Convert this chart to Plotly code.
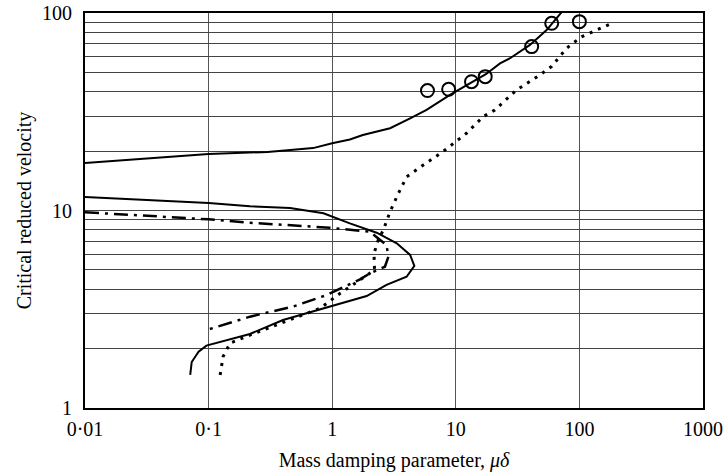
import plotly.graph_objects as go

# Upper solid curve
up_x = [0.01, 0.1, 0.3, 0.7, 1.0, 1.39, 1.77, 2.94, 4.27, 5.8, 8.97, 13.0, 17.5, 22.8, 27.5, 39.8, 54.3, 77.6]
up_y = [17.4, 19.3, 19.8, 20.7, 21.9, 22.9, 24.1, 26.1, 29.3, 32.3, 38.5, 44.1, 49.0, 55.6, 59.0, 68.9, 82.0, 107]

# Experimental points (open circles)
pt_x = [5.9, 8.75, 13.4, 17.3, 41.1, 59.7, 100]
pt_y = [40.5, 41.1, 44.9, 47.6, 67.6, 88.7, 90.4]

# Lower solid (C-shaped) curve
lo_x = [0.01, 0.1, 0.216, 0.456, 0.85, 1.39, 2.29, 3.33, 4.27, 4.62, 4.0, 2.75, 1.9, 1.0, 0.40, 0.216, 0.18, 0.096, 0.083, 0.073, 0.071]
lo_y = [11.7, 10.9, 10.5, 10.3, 9.68, 8.61, 7.72, 6.82, 5.96, 5.24, 4.62, 4.2, 3.69, 3.28, 2.79, 2.37, 2.30, 2.07, 1.93, 1.71, 1.47]

# Dash-dot curve
dd_x = [0.01, 0.0246, 0.1, 0.216, 0.96, 2.02, 2.75, 2.85, 2.67, 2.02, 1.68, 0.90, 0.48, 0.216, 0.096]
dd_y = [9.8, 9.49, 9.02, 8.67, 8.18, 7.81, 6.69, 5.83, 5.19, 4.81, 4.48, 3.73, 3.26, 2.9, 2.48]

# Dotted curve
dt_x = [0.124, 0.131, 0.149, 0.216, 0.80, 1.16, 1.68, 2.2, 2.18, 2.36, 2.59, 2.94, 3.43, 4.0, 5.46, 7.9, 12.2, 16.7, 20.7, 31.1, 48, 59.7, 78.9, 104, 188]
dt_y = [1.47, 1.82, 2.13, 2.34, 3.2, 3.81, 4.45, 5.0, 6.07, 7.1, 7.96, 9.86, 12.2, 14.8, 17.0, 19.9, 24.6, 29.9, 32.3, 40.8, 48.6, 53.7, 66.4, 75.8, 89.4]

x_ticks = [0.01, 0.1, 1, 10, 100, 1000]
x_labels = ["0·01", "0·1", "1", "10", "100", "1000"]
y_ticks = [1, 2, 3, 4, 5, 6, 7, 8, 9, 10, 20, 30, 40, 50, 60, 70, 80, 90, 100]
y_labels = ["1", "", "", "", "", "", "", "", "", "10", "", "", "", "", "", "", "", "", "100"]

fig = go.Figure()
fig.add_trace(go.Scatter(x=up_x, y=up_y, mode="lines", line=dict(color="black", width=2)))
fig.add_trace(go.Scatter(x=lo_x, y=lo_y, mode="lines", line=dict(color="black", width=2)))
fig.add_trace(go.Scatter(x=dd_x, y=dd_y, mode="lines",
                         line=dict(color="black", width=2.5, dash="14px,6px,3px,6px")))
fig.add_trace(go.Scatter(x=dt_x, y=dt_y, mode="lines",
                         line=dict(color="black", width=3, dash="3px,6px")))
fig.add_trace(go.Scatter(x=pt_x, y=pt_y, mode="markers",
                         marker=dict(symbol="circle-open", size=13, color="black", line=dict(width=2))))

font = dict(family="Liberation Serif, Times New Roman, serif", size=20, color="black")
fig.update_layout(
    width=726, height=475,
    margin=dict(l=85, r=23, t=13, b=67),
    paper_bgcolor="white", plot_bgcolor="white",
    showlegend=False,
    font=font,
    xaxis=dict(type="log", range=[-2, 3], tickvals=x_ticks, ticktext=x_labels,
               showgrid=True, gridcolor="#555", gridwidth=1, automargin=False,
               showline=True, linecolor="black", linewidth=2, mirror=True,
               ticks="", ticklabelstandoff=2, zeroline=False,
               title=dict(text="Mass damping parameter, <i>μδ</i>", standoff=14, font=font)),
    yaxis=dict(type="log", range=[0, 2], tickvals=y_ticks, ticktext=y_labels,
               showgrid=True, gridcolor="#444", gridwidth=1, automargin=False,
               showline=True, linecolor="black", linewidth=2, mirror=True,
               ticks="", ticklabelstandoff=7, zeroline=False,
               title=dict(text="Critical reduced velocity", standoff=5, font=font)),
)
fig.write_html("out.html")
